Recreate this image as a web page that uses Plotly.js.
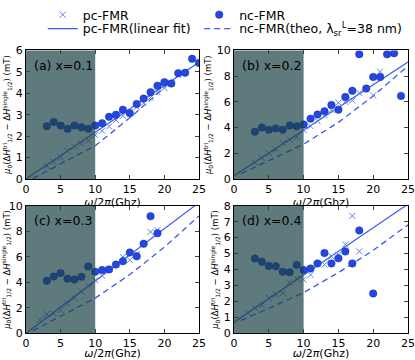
<!DOCTYPE html>
<html>
<head>
<meta charset="utf-8">
<script src="https://cdn.plot.ly/plotly-3.0.1.min.js"></script>
<style>
  body { margin: 0; background: #fff; }
  #chart { width: 415px; height: 360px; }
</style>
</head>
<body>
<div id="chart"></div>
<script>
// (a) x=0.1
var ncFreqA = [3, 4, 5, 6, 7, 8, 9, 10, 11, 12, 13, 14, 15, 16, 17, 18, 19, 20, 21, 22, 23, 24, 25];
var ncA = [2.46, 2.66, 2.49, 2.34, 2.5, 2.41, 2.34, 2.49, 2.6, 2.9, 3.0, 3.23, 3.07, 3.5, 3.75, 4.05, 4.35, 4.52, 4.46, 4.94, 4.96, 5.61, 5.42];
var pcFreqA = [3, 4, 5, 6, 7, 8, 9, 10, 11, 12, 13, 14, 15, 16, 17, 18, 19, 20, 21, 22];
var pcA = [0.6, 0.8, 1.0, 1.3, 1.5, 1.65, 1.8, 2.05, 2.25, 2.45, 2.75, 2.95, 3.1, 3.35, 3.55, 3.8, 4.05, 4.25, 4.45, 4.85];
var fitFreqA = [0, 25];
var fitA = [0, 5.45];
var theoFreqA = [1, 5, 10, 15, 20, 21];
var theoA = [0.02, 0.7, 1.55, 2.85, 4.3, 4.55];

// (b) x=0.2
var ncFreqB = [3, 4, 5, 6, 7, 8, 9, 10, 11, 12, 13, 14, 15, 16, 17, 18, 19, 20, 21, 22, 23, 24];
var ncB = [3.67, 4.01, 3.82, 3.92, 3.82, 4.16, 4.09, 4.24, 4.69, 5.01, 5.26, 5.76, 5.39, 6.38, 6.86, 9.7, 7.03, 7.93, 7.93, 9.7, 9.78, 6.46];
var pcFreqB = [3, 4, 5, 6, 7, 8, 9, 10, 11, 12, 13, 14, 15, 16, 17, 18, 20, 21];
var pcB = [1.27, 1.65, 2.0, 2.3, 2.77, 3.04, 3.27, 3.8, 4.1, 4.5, 4.95, 5.36, 5.93, 6.0, 6.1, 6.68, 6.5, 8.35];
var fitFreqB = [0, 25];
var fitB = [0.25, 9.1];
var theoFreqB = [1, 5, 10, 15, 20, 25];
var theoB = [0.4, 1.45, 2.7, 4.4, 6.45, 8.8];

// (c) x=0.3
var ncFreqC = [3, 4, 5, 6, 7, 8, 9, 10, 11, 12, 13, 14, 15, 16, 17, 18, 19];
var ncC = [4.12, 4.45, 4.72, 4.27, 4.22, 4.42, 5.23, 4.82, 4.95, 5.0, 5.38, 5.65, 6.33, 6.03, 7.01, 9.17, 7.84];
var pcFreqC = [2, 3, 4, 5, 6, 7, 8, 9, 10, 11, 12, 14, 15, 16, 18, 19];
var pcC = [1.05, 1.5, 1.55, 1.81, 2.31, 2.76, 3.27, 3.72, 4.15, 4.5, 5.05, 5.98, 5.73, 6.2, 7.94, 8.1];
var fitFreqC = [0, 25];
var fitC = [0, 10.25];
var theoFreqC = [1, 5, 10, 15, 20, 25];
var theoC = [0.2, 1.35, 2.75, 4.6, 6.75, 9.2];

// (d) x=0.4
var ncFreqD = [3, 4, 5, 6, 7, 8, 9, 10, 11, 12, 13, 14, 15, 16, 17, 18, 20];
var ncD = [4.68, 4.48, 4.22, 4.2, 3.86, 3.82, 4.28, 3.96, 4.06, 4.38, 5.03, 4.38, 4.7, 5.13, 4.38, 6.45, 2.49];
var pcFreqD = [2, 3, 4, 5, 6, 7, 8, 9, 10, 11, 13, 14, 15, 16, 17, 18];
var pcD = [1.29, 1.59, 1.75, 2.21, 2.41, 2.51, 3.18, 3.42, 3.36, 3.66, 4.3, 4.82, 4.94, 5.57, 7.36, 5.13];
var fitFreqD = [0, 25];
var fitD = [0.68, 8.1];
var theoFreqD = [1, 5, 10, 15, 20, 25];
var theoD = [0.8, 1.55, 2.55, 3.8, 5.2, 6.8];

var panelLabels = ['(a) x=0.1', '(b) x=0.2', '(c) x=0.3', '(d) x=0.4'];
var yRanges = [[0, 6], [0, 10], [0, 10], [0, 8]];
var yDticks = [1, 2, 2, 1];
var xTicks = [0, 5, 10, 15, 20, 25];

var FONT = 'DejaVu Sans, sans-serif';
var ncColor = '#2447e3';
var pcColor = '#5c80f2';
var lineColor = '#3a5cf0';

function panel(n, pcX, pcY, ncX, ncY, fitX, fitY, theoX, theoY) {
  var sfx = n == 1 ? '' : String(n);
  var first = n == 1;
  return [
    {
      name: 'nc-FMR(theo, λ<sub>sr</sub><sup>L</sup>=38 nm)',
      x: theoX, y: theoY,
      xaxis: 'x' + sfx, yaxis: 'y' + sfx,
      mode: 'lines', type: 'scatter',
      line: { color: lineColor, width: 1.3, dash: '6px,4px' },
      showlegend: first, legend: 'legend4',
      hoverinfo: 'skip',
    },
    {
      name: 'pc-FMR(linear fit)',
      x: fitX, y: fitY,
      xaxis: 'x' + sfx, yaxis: 'y' + sfx,
      mode: 'lines', type: 'scatter',
      line: { color: lineColor, width: 1.2 },
      showlegend: first, legend: 'legend3',
      hoverinfo: 'skip',
    },
    {
      name: 'pc-FMR',
      x: pcX, y: pcY,
      xaxis: 'x' + sfx, yaxis: 'y' + sfx,
      mode: 'markers', type: 'scatter',
      marker: { symbol: 'x-thin-open', size: 6, color: pcColor, line: { width: 1 } },
      showlegend: first, legend: 'legend',
    },
    {
      name: 'nc-FMR',
      x: ncX, y: ncY,
      xaxis: 'x' + sfx, yaxis: 'y' + sfx,
      mode: 'markers', type: 'scatter',
      marker: { symbol: 'circle', size: 7.5, color: ncColor, line: { color: '#1630a8', width: 0.5 } },
      showlegend: first, legend: 'legend2',
    },
  ];
}

var plotData = []
  .concat(panel(1, pcFreqA, pcA, ncFreqA, ncA, fitFreqA, fitA, theoFreqA, theoA))
  .concat(panel(2, pcFreqB, pcB, ncFreqB, ncB, fitFreqB, fitB, theoFreqB, theoB))
  .concat(panel(3, pcFreqC, pcC, ncFreqC, ncC, fitFreqC, fitC, theoFreqC, theoC))
  .concat(panel(4, pcFreqD, pcD, ncFreqD, ncD, fitFreqD, fitD, theoFreqD, theoD));

var colDomains = [[0.0627, 0.4795], [0.5639, 0.9831]];
var rowDomains = [[0.525, 0.8972], [0.0778, 0.4472]];

var yTitle = '<i>μ</i><sub>0</sub>(Δ<i>H</i><sup>tri</sup><sub>1/2</sub> − Δ<i>H</i><sup>single</sup><sub>1/2</sub>) (mT)';

function legendAt(x, y) {
  return {
    x: x, y: y, xanchor: 'left', yanchor: 'top',
    font: { size: 12.5, family: FONT }, bgcolor: 'rgba(0,0,0,0)',
  };
}

var layout = {
  width: 415,
  height: 360,
  margin: { l: 0, r: 0, t: 0, b: 0 },
  paper_bgcolor: '#ffffff',
  plot_bgcolor: '#ffffff',
  font: { family: FONT, size: 11, color: '#000000' },
  showlegend: true,
  legend: legendAt(0.103, 1.044),
  legend2: legendAt(0.48, 1.044),
  legend3: legendAt(0.103, 1.003),
  legend4: legendAt(0.48, 1.003),
  shapes: [],
  annotations: [],
};

for (let i = 0; i < 4; i++) {
  let sfx = i == 0 ? '' : String(i + 1);
  let col = i % 2;
  let row = Math.floor(i / 2);
  layout['xaxis' + sfx] = {
    domain: colDomains[col],
    anchor: 'y' + sfx,
    range: [0, 25],
    tickvals: xTicks,
    ticks: 'inside',
    ticklen: 4,
    showline: true,
    mirror: 'ticks',
    linecolor: '#000',
    linewidth: 1,
    showgrid: false,
    zeroline: false,
    tickfont: { size: 11 },
    title: { text: '<i>ω</i>/2<i>π</i>(Ghz)', font: { size: 11 }, standoff: 3 },
  };
  layout['yaxis' + sfx] = {
    domain: rowDomains[row],
    anchor: 'x' + sfx,
    range: yRanges[i],
    dtick: yDticks[i],
    ticks: 'inside',
    ticklen: 4,
    showline: true,
    mirror: 'ticks',
    linecolor: '#000',
    linewidth: 1,
    showgrid: false,
    zeroline: false,
    tickfont: { size: 11 },
    title: { text: yTitle, font: { size: 8.5 }, standoff: 3 },
  };
  // grey band over the low-frequency region
  layout.shapes.push({
    type: 'rect', xref: 'x' + sfx, yref: 'y' + sfx + ' domain',
    x0: 0, x1: 10, y0: 0, y1: 1,
    fillcolor: 'rgb(26,65,69)', opacity: 0.7,
    line: { width: 0 }, layer: 'above',
  });
  layout.annotations.push({
    text: panelLabels[i],
    xref: 'x' + sfx + ' domain', yref: 'y' + sfx + ' domain',
    x: 0.035, y: 0.96, xanchor: 'left', yanchor: 'top',
    showarrow: false,
    font: { size: 12.5, color: '#000' },
  });
}

Plotly.newPlot('chart', plotData, layout, { staticPlot: true });
</script>
</body>
</html>
